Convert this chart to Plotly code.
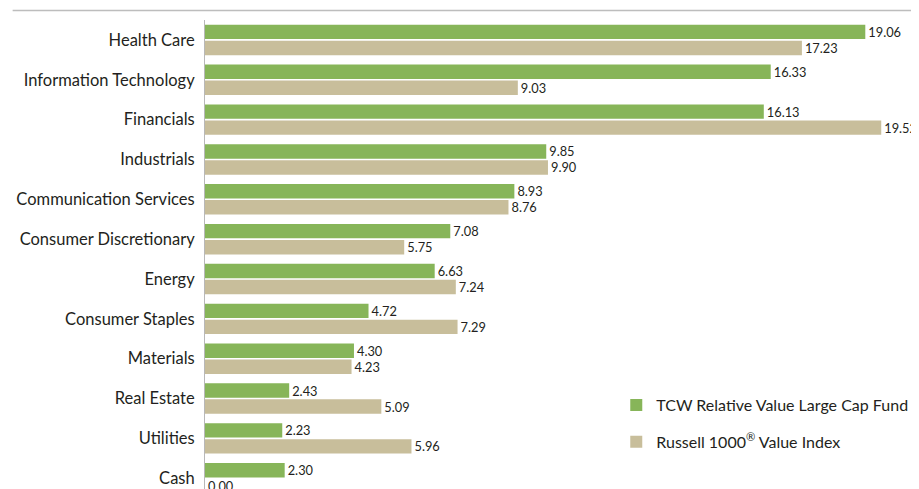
import plotly.graph_objects as go

categories = ["Health Care", "Information Technology", "Financials", "Industrials",
              "Communication Services", "Consumer Discretionary", "Energy",
              "Consumer Staples", "Materials", "Real Estate", "Utilities", "Cash"]
fund = [19.06, 16.33, 16.13, 9.85, 8.93, 7.08, 6.63, 4.72, 4.30, 2.43, 2.23, 2.30]
index = [17.23, 9.03, 19.52, 9.90, 8.76, 5.75, 7.24, 7.29, 4.23, 5.09, 5.96, 0.00]
names = ["TCW Relative Value Large Cap Fund", "Russell 1000<sup>®</sup> Value Index"]

GREEN = "#87B559"
BEIGE = "#C8BE9B"
TXT = "#231F20"
FONT = "Lato"

fig = go.Figure()
fig.add_trace(go.Bar(
    y=categories, x=fund, orientation="h", name=names[0], legendgroup="a",
    marker=dict(color=GREEN, line=dict(width=0)),
    texttemplate="%{x:.2f}", textposition="outside", constraintext="none",
    textfont=dict(size=12.8, color=TXT, family=FONT), cliponaxis=False,
))
fig.add_trace(go.Bar(
    y=categories, x=index, orientation="h", name=names[1], legendgroup="b",
    marker=dict(color=BEIGE, line=dict(width=0)),
    texttemplate="%{x:.2f}", textposition="outside", constraintext="none",
    textfont=dict(size=12.8, color=TXT, family=FONT), cliponaxis=False,
))

fig.update_layout(
    width=911, height=481,
    margin=dict(l=196.5, r=0, t=12.4, b=0, pad=0),
    paper_bgcolor="white", plot_bgcolor="white",
    barmode="group", bargap=0.196, bargroupgap=0.1,
    font=dict(family=FONT, color=TXT, size=16),
    showlegend=True,
    legend=dict(x=0.576, y=0.215, xanchor="left", yanchor="top",
                traceorder="grouped", tracegroupgap=13,
                font=dict(size=16, family=FONT, color=TXT),
                bgcolor="rgba(0,0,0,0)"),
    xaxis=dict(range=[0, 20.61], showgrid=False, zeroline=False,
               showticklabels=False, showline=False, fixedrange=True),
    yaxis=dict(type="category", range=[11.27, -0.5], showgrid=False,
               zeroline=False, showline=True, linecolor="#B8B8B8", linewidth=1,
               ticks="outside", ticklen=6, tickcolor="rgba(0,0,0,0)",
               tickfont=dict(size=16.5, family=FONT, color=TXT),
               automargin=False),
    shapes=[dict(type="line", xref="paper", yref="paper",
                 x0=-0.2694, x1=1.0, y0=1.02, y1=1.02,
                 line=dict(color="#BDBDBD", width=1.5))],
)

fig.write_html("out.html")
